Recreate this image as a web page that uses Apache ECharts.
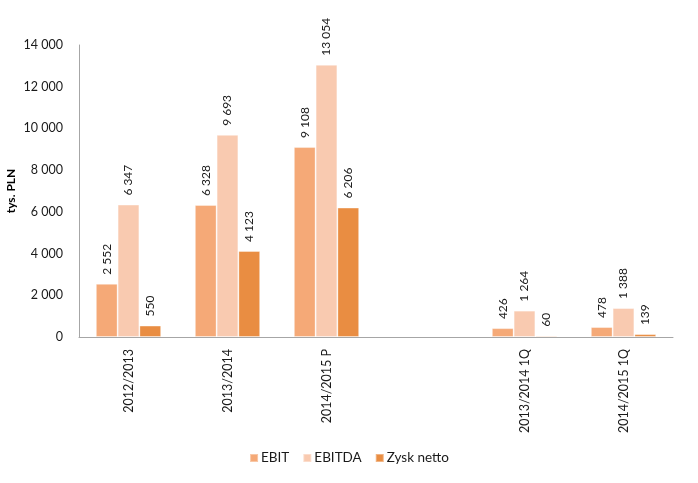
<!DOCTYPE html>
<html><head><meta charset="utf-8">
<script src="https://cdn.jsdelivr.net/npm/echarts@6/dist/echarts.min.js"></script>
<style>html,body{margin:0;padding:0;background:#fff}#c{width:698px;height:483px}</style>
</head><body><div id="c"></div>
<script>
var categories = ['2012/2013', '2013/2014', '2014/2015 P', '', '2013/2014 1Q', '2014/2015 1Q'];
var ebit = [2552, 6328, 9108, null, 426, 478];
var ebitda = [6347, 9693, 13054, null, 1264, 1388];
var zysk = [550, 4123, 6206, null, 60, 139];
var seriesNames = ['EBIT', 'EBITDA', 'Zysk netto'];
var yTicks = [0, 2000, 4000, 6000, 8000, 10000, 12000, 14000];

function fmt(v) {
  return String(v).replace(/\B(?=(\d{3})+(?!\d))/g, ' ');
}
var FONT = 'Lato';
var colors = ['#F5A977', '#F9CAB0', '#E98D42'];
var datasets = [ebit, ebitda, zysk];
var chart = echarts.init(document.getElementById('c'), null, {renderer: 'canvas'});
chart.setOption({
  animation: false,
  textStyle: {fontFamily: FONT},
  grid: {left: 79, right: 25, top: 45, bottom: 146, containLabel: false, outerBoundsMode: 'none'},
  legend: {
    top: 446, left: 'center',
    itemWidth: 8, itemHeight: 8, itemGap: 13,
    icon: 'rect',
    textStyle: {fontFamily: FONT, fontSize: 13.5, color: '#1a1a1a', padding: [0, 0, 0, -2]},
    data: seriesNames
  },
  xAxis: {
    type: 'category', data: categories,
    axisLine: {lineStyle: {color: '#A6A6A6', width: 1}},
    axisTick: {show: false},
    axisLabel: {rotate: 90, interval: 0, margin: 12, fontSize: 12.5, color: '#1a1a1a', fontFamily: FONT}
  },
  yAxis: {
    type: 'value', min: yTicks[0], max: yTicks[yTicks.length - 1], interval: 2000,
    name: 'tys. PLN', nameLocation: 'middle', nameGap: 62, nameMoveOverlap: false,
    nameTextStyle: {fontWeight: 'bold', fontSize: 12, color: '#000', fontFamily: FONT},
    axisLine: {show: true, lineStyle: {color: '#A6A6A6'}},
    axisTick: {show: false},
    splitLine: {show: false},
    axisLabel: {fontSize: 12.5, color: '#1a1a1a', margin: 16, fontFamily: FONT, formatter: function (v) { return fmt(v); }}
  },
  series: datasets.map(function (d, i) {
    return {
      name: seriesNames[i], type: 'bar', data: d,
      barGap: '0%', barCategoryGap: '34%',
      itemStyle: {color: colors[i], borderColor: 'rgba(255,255,255,0.35)', borderWidth: 1},
      label: {
        show: true, position: 'top', rotate: 90, align: 'left', verticalAlign: 'middle',
        distance: 9, fontSize: 12, color: '#1a1a1a', fontFamily: FONT,
        formatter: function (p) { return p.value == null ? '' : fmt(p.value); }
      }
    };
  })
});
</script></body></html>
